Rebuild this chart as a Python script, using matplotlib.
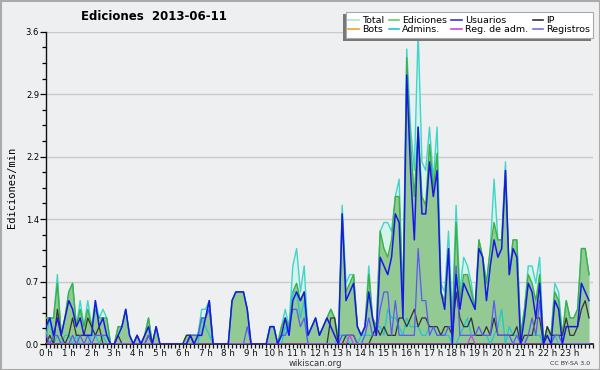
import numpy as np
import matplotlib
matplotlib.use("Agg")
import matplotlib.pyplot as plt
from matplotlib.patches import Rectangle
from matplotlib.lines import Line2D
from matplotlib.ticker import MultipleLocator

# Edits per 10-minute bin (144 bins); plotted as edits/min = count / 10
total = [3,3,3,8,1,3, 6,7,2,5,2,5, 2,5,3,4,3,0, 0,2,2,4,1,0, 1,0,1,3,0,2, 0,0,0,0,0,0,
         0,1,1,1,1,4, 4,5,0,0,0,0, 0,5,6,6,6,4, 0,0,0,0,0,2, 2,0,2,4,2,9, 11,6,9,1,2,3,
         1,2,3,4,3,1, 16,7,8,8,2,1, 2,9,3,2,13,14, 14,13,17,19,5,34, 25,20,36,21,20,25, 19,25,7,6,13,3,
         16,6,10,9,7,4, 12,10,7,11,19,12, 12,21,8,12,12,1, 4,9,9,7,10,0, 2,1,7,6,1,5, 3,3,4,11,11,8]
ediciones = [3,3,3,7,1,3, 6,7,2,4,2,4, 2,4,3,3,3,0, 0,2,2,4,1,0, 1,0,1,3,0,2, 0,0,0,0,0,0,
             0,1,1,1,1,3, 3,5,0,0,0,0, 0,5,6,6,6,4, 0,0,0,0,0,2, 2,0,2,3,2,6, 7,5,6,1,2,3,
             1,2,3,4,3,0, 15,6,7,8,2,1, 2,8,3,2,13,11, 10,12,17,17,5,33, 23,17,25,17,16,23, 18,22,6,5,11,2,
             14,5,8,8,6,4, 12,10,7,11,14,12, 12,20,8,12,12,1, 4,8,7,5,8,0, 2,1,6,5,1,5, 3,3,4,11,11,8]
usuarios = [2,3,1,3,1,3, 5,4,2,3,1,1, 1,5,2,3,1,0, 0,1,2,4,1,0, 1,0,1,2,0,2, 0,0,0,0,0,0,
            0,0,1,0,1,1, 3,5,0,0,0,0, 0,5,6,6,6,4, 0,0,0,0,0,2, 2,0,1,3,1,5, 6,5,6,1,2,3,
            1,2,3,2,1,0, 15,5,6,7,2,1, 2,6,3,1,10,9, 8,10,15,14,3,31, 20,12,25,15,15,21, 17,20,6,4,11,0,
            8,4,7,6,5,4, 11,10,5,9,12,10, 11,20,8,11,10,0, 3,7,6,3,7,0, 1,0,5,4,0,2, 2,2,2,7,6,5]
ip = [0,1,0,4,1,0, 1,3,1,1,1,3, 2,1,2,0,0,0, 0,1,0,0,0,0, 0,0,0,1,0,0, 0,0,0,0,0,0,
      0,1,1,0,0,0, 0,0,0,0,0,0, 0,0,0,0,0,0, 0,0,0,0,0,0, 0,0,0,0,0,0, 0,0,0,0,0,0,
      0,0,0,3,3,0, 0,1,1,1,0,0, 0,0,1,2,1,2, 1,1,1,3,3,2, 3,4,2,3,3,2, 2,2,1,2,2,1,
      6,3,2,2,3,1, 1,1,2,1,3,1, 1,1,1,1,2,0, 1,1,1,3,3,0, 2,1,1,1,1,3, 1,1,2,4,5,3]
registros = [1,0,1,1,0,0, 0,1,0,1,0,1, 0,1,1,1,1,0, 0,0,0,0,0,0, 1,0,0,1,0,0, 0,0,0,0,0,0,
             0,0,1,1,1,3, 3,4,0,0,0,0, 0,0,0,0,0,2, 0,0,0,0,0,0, 0,0,1,1,2,4, 4,2,3,0,0,0,
             0,0,0,0,0,0, 1,1,1,1,0,0, 1,3,1,1,4,6, 6,1,5,1,1,1, 1,1,11,5,5,1, 2,1,1,1,2,2,
             9,1,1,1,1,1, 2,1,1,1,5,1, 1,1,1,0,1,0, 0,1,3,1,5,0, 0,0,1,1,0,0, 0,0,0,0,0,0]
admins = [1,3,0,1,0,1, 1,0,1,0,0,0, 1,1,0,1,0,0, 0,0,0,0,0,0, 0,0,0,0,0,0, 0,0,0,0,0,0,
          0,0,0,0,0,3, 2,1,0,0,0,0, 0,0,0,0,0,0, 0,0,0,0,0,2, 2,0,0,2,1,6, 6,3,5,0,0,0,
          0,0,0,0,0,1, 1,1,0,0,0,1, 1,1,1,2,2,1, 4,3,3,2,1,3, 2,2,2,1,1,2, 2,1,1,1,1,0,
          0,1,2,3,1,1, 1,1,1,0,1,2, 4,0,2,1,1,0, 0,1,1,1,1,0, 0,0,1,0,0,0, 0,0,0,0,0,0]
reg_adm = [0]*80 + [1] + [0]*31 + [1] + [0]*31
bots = [0]*144

hour_labels = [f"{h} h" for h in range(24)]
y_ticks = [0.0, 0.72, 1.44, 2.16, 2.88, 3.6]
y_labels = ["0.0", "0.7", "1.4", "2.2", "2.9", "3.6"]

def per_min(a):
    return np.asarray(a, dtype=float) / 10.0

x = np.arange(144) / 6.0
W, H = 600, 370

BG = "#eeeff0"
fig = plt.figure(figsize=(6, 3.7), dpi=100, facecolor=BG)
ax = fig.add_axes([46/W, 1-344/H, (592.8-46)/W, (344-31.7)/H])
ax.set_facecolor(BG)

c_total_fill = "#d6f2ec"
c_total = "#3fd6c8"
c_edic = "#3cb043"
c_edic_fill = "#93c993"
c_usu = "#1818e6"
c_ip = "#333333"
c_bots = "#f0a030"
c_adm = "#22c4d6"
c_radm = "#cc44dd"
c_reg = "#5a5af0"

t = per_min(total); e = per_min(ediciones)
ax.fill_between(x, 0, t, color=c_total_fill, lw=0, zorder=1)
ax.fill_between(x, 0, e, color=c_edic_fill, lw=0, zorder=2)
ax.plot(x, t, color=c_total, lw=1.0, zorder=3)
ax.plot(x, e, color=c_edic, lw=1.0, zorder=4)
ax.plot(x, per_min(bots), color=c_bots, lw=0.9, zorder=4.5, alpha=0)
ax.plot(x, per_min(admins), color=c_adm, lw=0.9, zorder=5)
ax.plot(x, per_min(ip), color=c_ip, lw=0.9, zorder=6)
ax.plot(x, per_min(registros), color=c_reg, lw=0.9, zorder=6)
ax.plot(x, per_min(reg_adm), color=c_radm, lw=0.9, zorder=6)
ax.plot(x, per_min(usuarios), color=c_usu, lw=1.1, zorder=7)

ax.set_xlim(0, 24)
ax.set_ylim(0, 3.6)
for s in ["top", "right"]:
    ax.spines[s].set_visible(False)
ax.spines["left"].set_color("#111111")
ax.spines["bottom"].set_color("#111111")
ax.spines["left"].set_linewidth(1)
ax.spines["bottom"].set_linewidth(1.2)

ax.set_xticks(np.arange(24))
ax.set_xticklabels(hour_labels, fontsize=6.3, family="DejaVu Sans")
ax.xaxis.set_minor_locator(MultipleLocator(1/6))
ax.tick_params(axis="x", which="both", direction="out", length=3, width=0.9, pad=0.3, colors="#111111")
ax.set_yticks(y_ticks)
ax.set_yticklabels(y_labels, fontsize=6, family="DejaVu Sans")
ax.yaxis.set_minor_locator(MultipleLocator(0.18))
ax.tick_params(axis="y", which="major", direction="out", length=4, width=0.9, pad=1)
ax.tick_params(axis="y", which="minor", direction="out", length=3, width=0.9)
ax.grid(axis="y", which="major", color="#cbcbcb", lw=1, zorder=0)
ax.set_axisbelow(True)

ax.set_ylabel("Ediciones/min", fontsize=7.5, family="DejaVu Sans Mono", labelpad=6)
fig.text(154/W, 1-17/H, "Ediciones  2013-06-11", fontsize=8.5, fontweight="bold",
         ha="center", va="center")
fig.text(315/W, 1-363.5/H, "wikiscan.org", fontsize=6.2, ha="center", va="center", color="#333333")
fig.text(590/W, 1-363.5/H, "CC BY-SA 3.0", fontsize=4.5, ha="right", va="center", color="#333333")

# Legend box with shadow (drawn manually: shadow offset down-left)
bx0, bx1, by0, by1 = 345.7, 593.0, 11.7, 38.3
shadow = Rectangle(((bx0 - 2.5)/W, 1 - (by1 + 2.5)/H), (bx1 - bx0)/W, (by1 - by0)/H,
                   transform=fig.transFigure, facecolor="#777777", edgecolor="none", zorder=8)
box = Rectangle((bx0/W, 1 - by1/H), (bx1 - bx0)/W, (by1 - by0)/H,
                transform=fig.transFigure, facecolor="white", edgecolor="#aaaaaa", lw=0.8, zorder=9)
fig.patches.extend([shadow, box])

handles = [
    Line2D([], [], color="#a8e6de", lw=1.2),
    Line2D([], [], color=c_bots, lw=1.2),
    Line2D([], [], color="#66cc66", lw=1.2),
    Line2D([], [], color=c_adm, lw=1.2),
    Line2D([], [], color="#3333dd", lw=1.2),
    Line2D([], [], color=c_radm, lw=1.2),
    Line2D([], [], color="#333333", lw=1.2),
    Line2D([], [], color="#7070ee", lw=1.2),
]
labels = ["Total", "Bots", "Ediciones", "Admins.", "Usuarios", "Reg. de adm.", "IP", "Registros"]
leg = fig.legend(handles, labels, loc="center", bbox_to_anchor=((bx0 + bx1)/2/W, 1 - (by0 + by1)/2/H),
                 ncol=4, fontsize=6.8, frameon=False, handlelength=1.1,
                 handletextpad=0.35, columnspacing=0.45, labelspacing=0.0, borderpad=0.0,
                 borderaxespad=0)
leg.set_zorder(10)

border = Rectangle((0.5/W, 0.5/H), 1 - 1/W, 1 - 1/H, transform=fig.transFigure,
                   facecolor="none", edgecolor="#aaaaaa", lw=1.5, zorder=20)
fig.patches.append(border)

fig.savefig("out.png", dpi=100, facecolor=BG)
